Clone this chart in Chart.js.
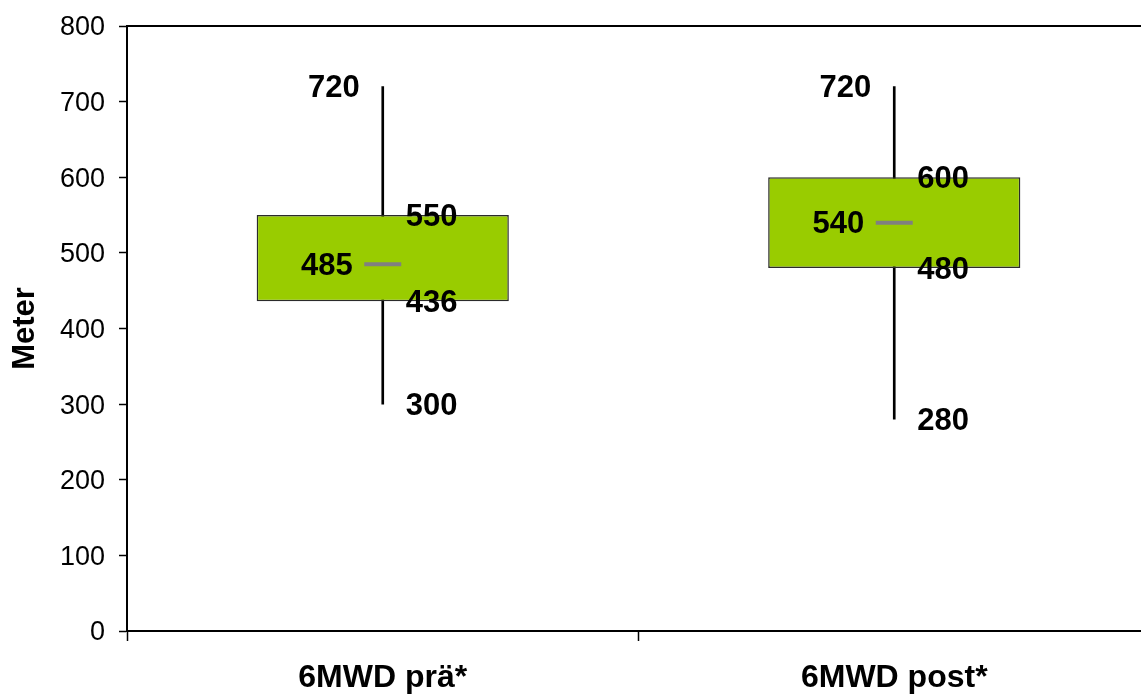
<!DOCTYPE html>
<html lang="de">
<head>
    <meta charset="UTF-8">
    <title>6MWD Boxplot</title>
    <style>
        html, body { margin: 0; padding: 0; background: #fff; overflow: hidden; }
        canvas { display: block; }
    </style>
</head>
<body>
    <canvas id="myChart" width="1150" height="695"></canvas>

    <script src="https://cdnjs.cloudflare.com/ajax/libs/Chart.js/4.4.0/chart.umd.min.js"></script>
    <script>
        // data
        var categories = ['6MWD prä*', '6MWD post*'];
        var minVals = [300, 280];
        var q1Vals = [436, 480];
        var medianVals = [485, 540];
        var q3Vals = [550, 600];
        var maxVals = [720, 720];
        var yMin = 0, yMax = 800, yStep = 100;

        var fontFamily = "'Liberation Sans', Arial, sans-serif";

        var boxData = [], whiskerData = [];
        for (var i = 0; i < categories.length; i++) {
            boxData.push([q1Vals[i], q3Vals[i]]);
            whiskerData.push([minVals[i], maxVals[i]]);
        }

        // top frame line
        var framePlugin = {
            id: 'frame',
            afterDraw: function (chart) {
                var ctx = chart.ctx, a = chart.chartArea;
                ctx.save();
                ctx.strokeStyle = '#000';
                ctx.lineWidth = 2;
                ctx.beginPath();
                ctx.moveTo(a.left, a.top);
                ctx.lineTo(a.right, a.top);
                ctx.stroke();
                ctx.restore();
            }
        };

        // the bold value labels next to the boxes
        var labelPlugin = {
            id: 'valueLabels',
            afterDatasetsDraw: function (chart) {
                var ctx = chart.ctx;
                var xs = chart.scales.x, ys = chart.scales.y;
                var dy = 2; // 'middle' sits a little high for digits
                ctx.save();
                ctx.font = 'bold 31px ' + fontFamily;
                ctx.fillStyle = '#000';
                ctx.textBaseline = 'middle';
                for (var i = 0; i < categories.length; i++) {
                    var x = xs.getPixelForValue(i);
                    ctx.textAlign = 'right';
                    ctx.fillText(maxVals[i], x - 23, ys.getPixelForValue(maxVals[i]) + dy);
                    ctx.fillText(medianVals[i], x - 30, ys.getPixelForValue(medianVals[i]) + dy);
                    ctx.textAlign = 'left';
                    ctx.fillText(q3Vals[i], x + 23, ys.getPixelForValue(q3Vals[i]) + dy);
                    ctx.fillText(q1Vals[i], x + 23, ys.getPixelForValue(q1Vals[i]) + dy);
                    ctx.fillText(minVals[i], x + 23, ys.getPixelForValue(minVals[i]) + dy);
                }
                ctx.restore();
            }
        };

        function createChart() {
            var ctx = document.getElementById('myChart').getContext('2d');
            var myChart = new Chart(ctx, {
                type: 'bar',
                data: {
                    labels: categories,
                    datasets: [
                        {
                            type: 'line',
                            label: 'Median',
                            data: medianVals,
                            showLine: false,
                            pointStyle: 'line',
                            pointRadius: 18.5,
                            pointBorderWidth: 4,
                            pointBorderColor: '#808080',
                            borderColor: '#808080',
                            order: 0
                        },
                        {
                            label: 'Box',
                            data: boxData,
                            grouped: false,
                            backgroundColor: '#99cc00',
                            borderColor: '#2b2b2b',
                            borderWidth: 1.5,
                            borderSkipped: false,
                            categoryPercentage: 1,
                            barPercentage: 0.493,
                            order: 1
                        },
                        {
                            label: 'Whisker',
                            data: whiskerData,
                            grouped: false,
                            backgroundColor: '#000000',
                            borderWidth: 0,
                            barThickness: 2,
                            order: 2
                        }
                    ]
                },
                options: {
                    responsive: false,
                    animation: false,
                    layout: {
                        autoPadding: false,
                        padding: { top: 26, right: 0, left: 0, bottom: 0 }
                    },
                    plugins: {
                        legend: { display: false },
                        tooltip: { enabled: false }
                    },
                    scales: {
                        x: {
                            offset: true,
                            grid: {
                                offset: true,
                                drawOnChartArea: false,
                                drawTicks: true,
                                tickLength: 10,
                                tickWidth: 1.5,
                                tickColor: '#000'
                            },
                            border: { display: true, color: '#000', width: 2 },
                            ticks: {
                                color: '#000',
                                padding: 18,
                                maxRotation: 0,
                                font: { family: fontFamily, size: 32, weight: 'bold' }
                            },
                            afterFit: function (scale) {
                                scale.height = 64;
                                scale.paddingLeft = 0;
                                scale.paddingRight = 0;
                            }
                        },
                        y: {
                            min: yMin,
                            max: yMax,
                            grid: {
                                drawOnChartArea: false,
                                drawTicks: true,
                                tickLength: 8,
                                tickWidth: 1.5,
                                tickColor: '#000'
                            },
                            border: { display: true, color: '#000', width: 2 },
                            ticks: {
                                stepSize: yStep,
                                color: '#000',
                                padding: 14,
                                labelOffset: 2,
                                font: { family: fontFamily, size: 27 }
                            },
                            title: {
                                display: true,
                                text: 'Meter',
                                color: '#000',
                                padding: { top: 7, bottom: 0 },
                                font: { family: fontFamily, size: 31, weight: 'bold' }
                            },
                            afterFit: function (scale) {
                                scale.width = 127;
                                scale.paddingTop = 0;
                                scale.paddingBottom = 0;
                            }
                        }
                    }
                },
                plugins: [framePlugin, labelPlugin]
            });
        }
        createChart();
    </script>
</body>
</html>
